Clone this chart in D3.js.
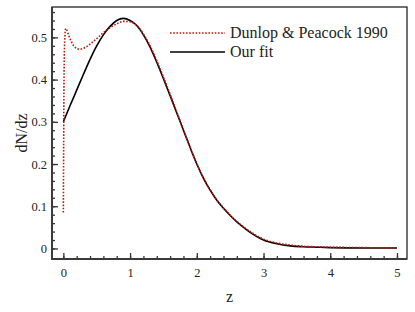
<!DOCTYPE html>
<html>
<head>
<meta charset="utf-8">
<script src="https://cdn.jsdelivr.net/npm/d3@7"></script>
<style>
  body { margin: 0; background: #fff; }
  svg { display: block; }
</style>
</head>
<body>
<div id="vis"></div>
<script>
    // values
    var fitZ =   [0, 0.1, 0.2, 0.3, 0.4, 0.5, 0.6, 0.7, 0.8, 0.9, 1.0, 1.1, 1.2, 1.3, 1.4, 1.5, 1.6, 1.7, 1.8, 1.9, 2.0, 2.1, 2.2, 2.3, 2.4, 2.5, 2.6, 2.7, 2.8, 2.9, 3.0, 3.2, 3.4, 3.6, 3.8, 4.0, 4.5, 5.0];
    var fitN =   [0.300, 0.338, 0.375, 0.412, 0.448, 0.480, 0.506, 0.526, 0.540, 0.545, 0.540, 0.528, 0.506, 0.477, 0.441, 0.402, 0.362, 0.321, 0.280, 0.239, 0.200, 0.166, 0.138, 0.114, 0.095, 0.078, 0.063, 0.050, 0.038, 0.028, 0.020, 0.011, 0.006, 0.004, 0.003, 0.002, 0.001, 0.001];

    var dpZ =    [0, 0.005, 0.01, 0.02, 0.035, 0.05, 0.08, 0.12, 0.18, 0.25, 0.3, 0.4, 0.5, 0.6, 0.7, 0.8, 0.9, 1.0, 1.1, 1.2, 1.3, 1.4, 1.5, 1.6, 1.7, 1.8, 1.9, 2.0, 2.1, 2.2, 2.3, 2.4, 2.5, 2.6, 2.7, 2.8, 2.9, 3.0, 3.2, 3.4, 3.6, 3.8, 4.0, 4.5, 5.0];
    var dpN =    [0.085, 0.25, 0.40, 0.49, 0.521, 0.518, 0.505, 0.490, 0.476, 0.472, 0.474, 0.484, 0.497, 0.511, 0.523, 0.532, 0.538, 0.537, 0.528, 0.508, 0.480, 0.445, 0.406, 0.365, 0.323, 0.281, 0.240, 0.201, 0.167, 0.139, 0.115, 0.096, 0.079, 0.064, 0.051, 0.040, 0.030, 0.022, 0.013, 0.008, 0.005, 0.004, 0.003, 0.002, 0.001];

    var xTicks = [0, 1, 2, 3, 4, 5];
    var yTicks = [0, 0.1, 0.2, 0.3, 0.4, 0.5];
    var legendNames = ["Dunlop & Peacock 1990", "Our fit"];

    var W = 415, H = 312,
        pLeft = 52, pRight = 407, pTop = 7, pBottom = 259,
        serif = "'Liberation Serif', 'DejaVu Serif', serif";

    var svg = d3.select("#vis").append("svg").attr("width", W).attr("height", H);

    var x = d3.scaleLinear().domain([-0.17, 5.15]).range([pLeft, pRight]),
        y = d3.scaleLinear().domain([-0.025, 0.572]).range([pBottom, pTop]);

    //frame
    svg.append("rect").attr("x", pLeft).attr("y", pTop)
        .attr("width", pRight - pLeft).attr("height", pBottom - pTop)
        .attr("fill", "none").attr("stroke", "#111").attr("stroke-width", 1.2);

    //minor ticks first, then major ones with labels
    var xMinor = d3.range(0, 5.01, 0.2), yMinor = d3.range(0, 0.561, 0.02);

    svg.append("g").attr("transform", "translate(0," + pBottom + ")")
        .call(d3.axisBottom(x).tickValues(xMinor).tickSize(-3).tickFormat(""))
        .call(g => g.select(".domain").remove());
    svg.append("g").attr("transform", "translate(" + pLeft + ",0)")
        .call(d3.axisLeft(y).tickValues(yMinor).tickSize(-3).tickFormat(""))
        .call(g => g.select(".domain").remove());

    var xAxis = svg.append("g").attr("transform", "translate(0," + pBottom + ")")
        .call(d3.axisBottom(x).tickValues(xTicks).tickSize(-6).tickPadding(9).tickFormat(d3.format("d")));
    var yAxis = svg.append("g").attr("transform", "translate(" + pLeft + ",0)")
        .call(d3.axisLeft(y).tickValues(yTicks).tickSize(-6).tickPadding(5).tickFormat(d => d === 0 ? "0" : d3.format(".1f")(d)));

    [xAxis, yAxis].forEach(function (a) {
        a.select(".domain").remove();
        a.attr("font-family", serif).attr("font-size", 12.5);
        a.selectAll("text").style("font-family", serif).style("font-size", "12.5px").attr("fill", "#222");
    });
    svg.selectAll(".tick line").attr("stroke", "#333").attr("stroke-width", 1.3);

    //heavier left and bottom axis lines
    svg.append("line").attr("x1", pLeft).attr("x2", pLeft).attr("y1", pTop).attr("y2", pBottom + 1)
        .attr("stroke", "#3a3a3a").attr("stroke-width", 2);
    svg.append("line").attr("x1", pLeft - 1).attr("x2", pRight).attr("y1", pBottom).attr("y2", pBottom)
        .attr("stroke", "#3a3a3a").attr("stroke-width", 2);

    var line = d3.line().x(d => x(d[0])).y(d => y(d[1])).curve(d3.curveMonotoneX);

    svg.append("path").datum(d3.zip(fitZ, fitN))
        .attr("d", line).attr("fill", "none").attr("stroke", "#000").attr("stroke-width", 1.6);

    svg.append("path").datum(d3.zip(dpZ, dpN))
        .attr("d", line).attr("fill", "none").attr("stroke", "#c0180c")
        .attr("stroke-width", 1.6).attr("stroke-dasharray", "1.6,1.6");

    //legend
    var lg = svg.append("g");
    [{ c: "#c0180c", dash: "1.6,1.6" }, { c: "#000", dash: null }].forEach(function (s, i) {
        var yy = 33 + i * 19;
        lg.append("line").attr("x1", 170).attr("x2", 225).attr("y1", yy).attr("y2", yy)
            .attr("stroke", s.c).attr("stroke-width", 1.6).attr("stroke-dasharray", s.dash);
        lg.append("text").attr("x", 230).attr("y", yy + 5)
            .style("font-family", serif).style("font-size", "16px").attr("fill", "#222").text(legendNames[i]);
    });

    //axis titles
    svg.append("text").attr("x", (pLeft + pRight) / 2).attr("y", 302).attr("text-anchor", "middle")
        .style("font-family", serif).style("font-size", "16px").attr("fill", "#222").text("z");
    svg.append("text").attr("transform", "translate(27," + ((pTop + pBottom) / 2) + ") rotate(-90)")
        .attr("text-anchor", "middle").style("font-family", serif).style("font-size", "16px")
        .attr("fill", "#222").text("dN/dz");
</script>
</body>
</html>
